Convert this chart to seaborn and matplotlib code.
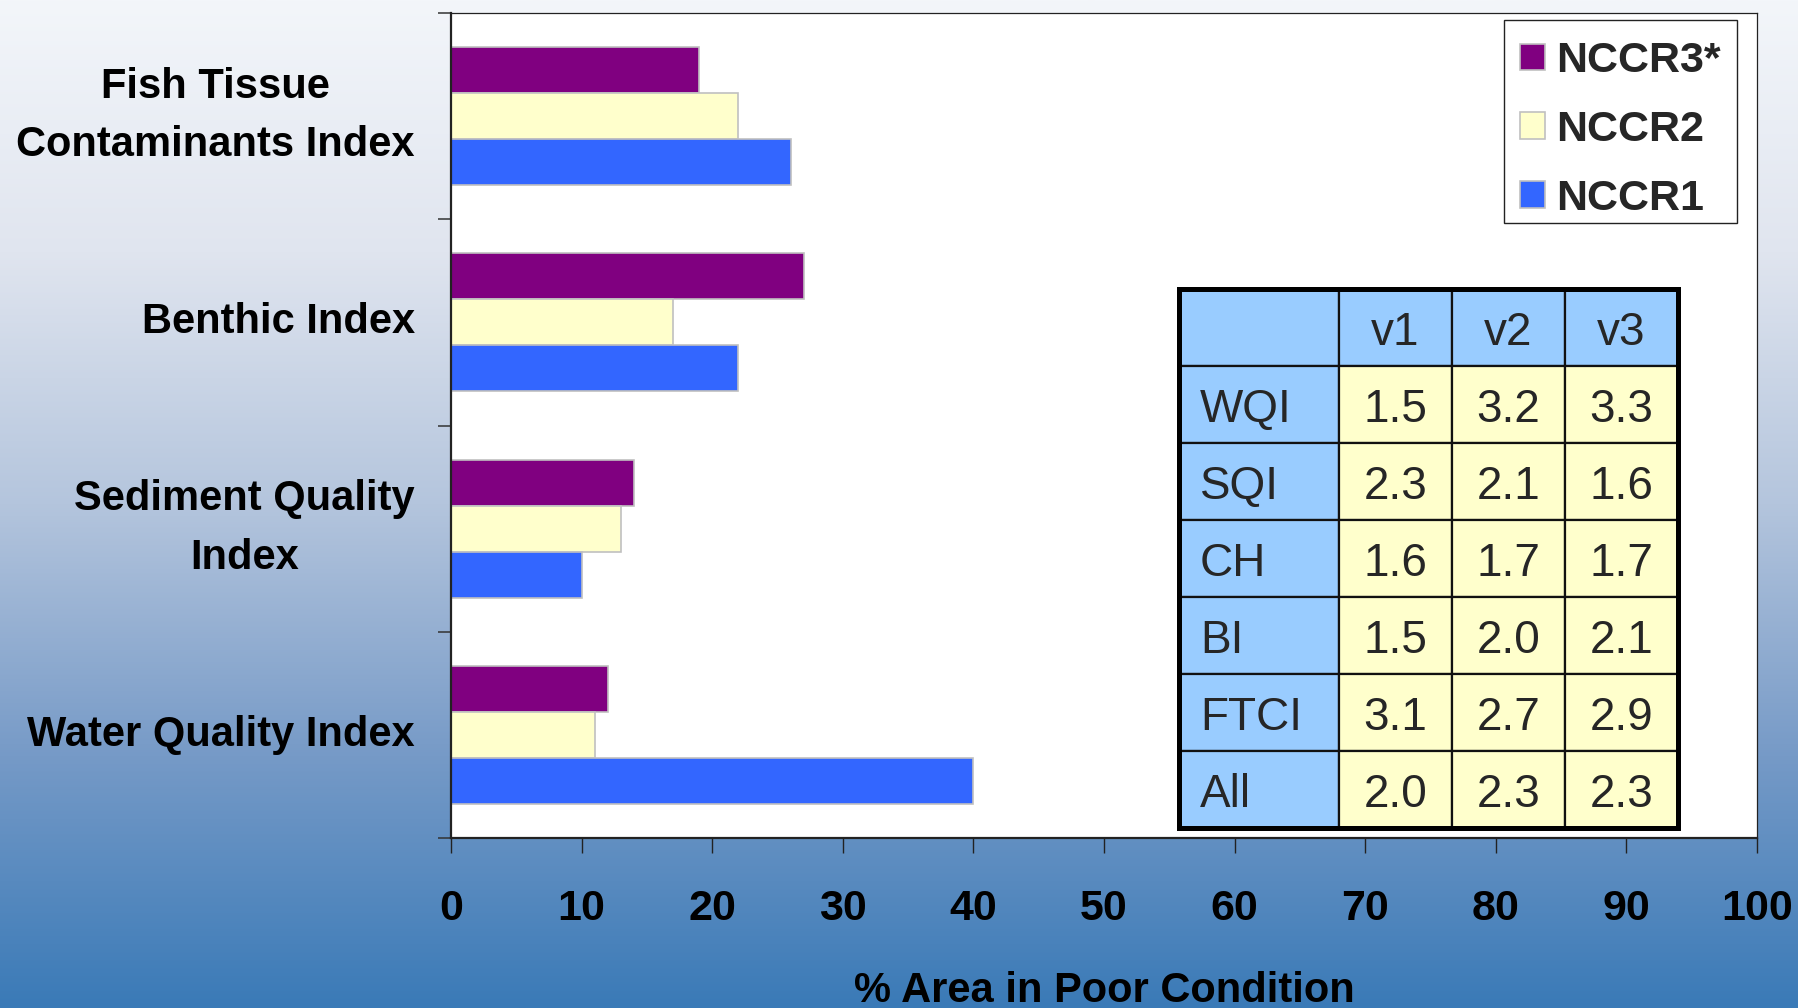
import numpy as np
import pandas as pd
import matplotlib
matplotlib.use('Agg')
import matplotlib.pyplot as plt
from matplotlib.patches import Rectangle
from matplotlib.transforms import Affine2D
import seaborn as sns

# chart data
categories = ['Fish Tissue\nContaminants Index', 'Benthic Index',
              'Sediment Quality\nIndex', 'Water Quality Index']
series = ['NCCR3*', 'NCCR2', 'NCCR1']
nccr3 = [19, 27, 14, 12]
nccr2 = [22, 17, 13, 11]
nccr1 = [26, 22, 10, 40]
colors = ['#800080', '#FFFFCC', '#3366FF']

# inset table data
table_cols = ['', 'v1', 'v2', 'v3']
table_rows = ['WQI', 'SQI', 'CH', 'BI', 'FTCI', 'All']
v1 = [1.5, 2.3, 1.6, 1.5, 3.1, 2.0]
v2 = [3.2, 2.1, 1.7, 2.0, 2.7, 2.3]
v3 = [3.3, 1.6, 1.7, 2.1, 2.9, 2.3]

sns.set_theme(style='white')
plt.rcParams['font.family'] = ['Liberation Sans', 'DejaVu Sans']

df = pd.DataFrame({
    'category': categories * 3,
    'series': [s for s in series for _ in categories],
    'value': nccr3 + nccr2 + nccr1,
})

fig = plt.figure(figsize=(17.98, 10.08), dpi=100)

# gradient background
bg = fig.add_axes([0, 0, 1, 1], zorder=0)
stops = [0.0, 0.25, 0.5, 0.75, 1.0]
stop_cols = np.array([[243, 246, 250], [224, 229, 239], [180, 197, 221],
                      [118, 154, 199], [58, 122, 183]]) / 255.0
t = np.linspace(0, 1, 512)
grad = np.stack([np.interp(t, stops, stop_cols[:, i]) for i in range(3)], axis=1)
bg.imshow(grad[:, None, :], aspect='auto', extent=[0, 1, 0, 1])
bg.set_axis_off()

ax = fig.add_axes([451 / 1798, 170 / 1008, 1306 / 1798, 825 / 1008], zorder=1)
ax.set_facecolor('white')

sns.barplot(data=df, x='value', y='category', hue='series', hue_order=series,
            palette=colors, width=0.67, edgecolor='#C0C0C0', linewidth=1.2,
            saturation=1, ax=ax)

ax.set_xlim(0, 100)
ax.set_ylim(3.5, -0.5)
ax.set_xticks(np.arange(0, 101, 10))
ax.set_yticks(range(len(categories)))
ax.set_yticks(np.arange(-0.5, len(categories), 1), minor=True)
ax.set_yticklabels(categories)

for lbl in ax.get_yticklabels():
    lbl.set_multialignment('center')
    lbl.set_linespacing(1.6)
    lbl.set_va('center')
    lbl.set_fontweight('bold')
    lbl.set_fontsize(30)
for lbl in ax.get_xticklabels():
    lbl.set_fontweight('bold')
    lbl.set_fontsize(31)

ax.tick_params(axis='y', which='major', length=0, pad=26, colors='black')
ax.tick_params(axis='y', which='minor', left=True, length=9.5, width=1.1, color='#333333')
ax.tick_params(axis='x', which='major', bottom=True, length=10.8, width=1.0,
               color='#222222', pad=26, labelcolor='black')

for side in ['left', 'bottom']:
    ax.spines[side].set_linewidth(1.6)
    ax.spines[side].set_color('#222222')
for side in ['top', 'right']:
    ax.spines[side].set_linewidth(0.9)
    ax.spines[side].set_color('#222222')

ax.set_ylabel('')
ax.set_xlabel('% Area in Poor Condition', fontsize=30, fontweight='bold', color='black')
ax.xaxis.set_label_coords(0.5, -0.1988)
ax.xaxis.label.set_va('baseline')

# legend (frame drawn separately)
handles, labels = ax.get_legend_handles_labels()
leg = ax.legend(handles, labels, loc='upper right', bbox_to_anchor=(0.9832, 0.9830),
                borderaxespad=0, frameon=False,
                prop={'weight': 'bold', 'size': 31}, handlelength=0.58,
                handleheight=0.58, handletextpad=0.27, labelspacing=0.67,
                borderpad=0.33)
for h in leg.legend_handles:
    h.set_edgecolor('#C0C0C0')
ax.add_patch(Rectangle((0.8063, 0.7455), 0.9847 - 0.8063, 0.9915 - 0.7455,
                       transform=ax.transAxes, fill=False, edgecolor='#222222',
                       linewidth=1.0, zorder=4))

# inset table
cell_text = [table_cols] + [[r, '%.1f' % a, '%.1f' % b, '%.1f' % c]
                            for r, a, b, c in zip(table_rows, v1, v2, v3)]
tbl_box = [0.5574, 0.0121, 0.3821, 0.6533]
tbl = ax.table(cellText=cell_text, colWidths=[160, 113, 113, 113],
               cellLoc='center', bbox=tbl_box, zorder=5)
tbl.auto_set_font_size(False)
tbl.set_fontsize(33)
for (r, c), cell in tbl.get_celld().items():
    cell.set_edgecolor('#111111')
    cell.set_linewidth(1.6)
    if r == 0 or c == 0:
        cell.set_facecolor('#99CCFF')
    else:
        cell.set_facecolor('#FFFFCC')
    if c == 0 and r > 0:
        cell.get_text().set_ha('left')
        cell.PAD = 0.13
    cell.get_text().set_transform(Affine2D().translate(0, -5))
ax.add_patch(Rectangle((tbl_box[0], tbl_box[1]), tbl_box[2], tbl_box[3],
                       transform=ax.transAxes, fill=False, edgecolor='black',
                       linewidth=3.6, zorder=6, clip_on=False))

fig.savefig('out.png', dpi=100)
